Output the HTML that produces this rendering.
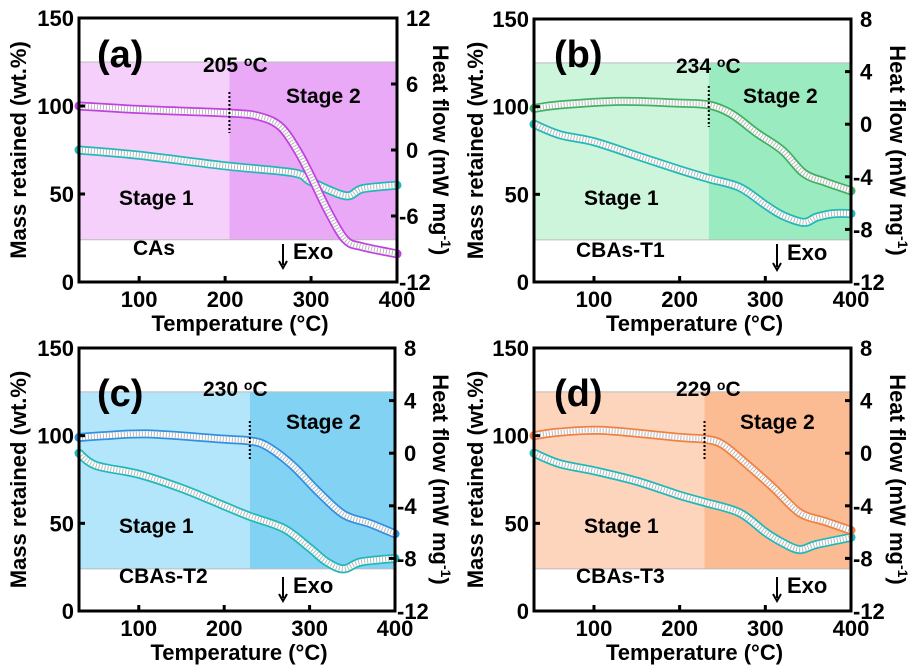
<!DOCTYPE html>
<html><head><meta charset="utf-8"><style>
html,body{margin:0;padding:0;background:#fff;}
svg{display:block;font-family:"Liberation Sans",Arial,sans-serif;font-weight:bold;}
</style></head><body>
<svg id="s" width="917" height="672" viewBox="0 0 917 672" xmlns="http://www.w3.org/2000/svg"></svg>
<script>
const P=[
{ox:0,oy:0,L:79,R:397,T:18,B:282,hmax:12,ht:[12,6,0,-6,-12],split:205,light:"#f5d0fa",dark:"#e9a9f7",mc:"#c040e0",lab:"(a)",name:"CAs",
 mass:[[30,100],[100,98],[205,96],[240,94],[265,88],[285,74],[300,60],[320,40],[340,24],[360,20],[400,16]],
 heat:[[30,75],[100,72],[200,66],[280,62],[300,57],[340,49],[360,53],[400,55]],
 tx:203,sx:286,s1:119,nx:133,ax:283,ty:72,dy1:92,dy2:133,s2y:103,s1y:205,ny:255,ay1:244,ay2:268,ey:259,lby:67},
{ox:457,oy:0,L:77,R:394,T:19,B:282,hmax:8,ht:[8,4,0,-4,-8,-12],split:234,light:"#cdf5dc",dark:"#9aebbf",mc:"#40b060",lab:"(b)",name:"CBAs-T1",
 mass:[[30,99],[60,101],[130,103],[200,102],[234,101],[260,96],[290,85],[320,75],[345,62],[370,57],[400,52]],
 heat:[[30,90],[60,84],[100,80],[150,72],[200,64],[234,59],[270,54],[300,44],[320,38],[345,34],[360,37],[380,39],[400,39]],
 tx:219,sx:286,s1:127,nx:119,ax:320,ty:73,dy1:86,dy2:127,s2y:103,s1y:205,ny:257,ay1:244,ay2:270,ey:260,lby:67},
{ox:0,oy:336,L:79,R:395,T:12,B:275,hmax:8,ht:[8,4,0,-4,-8,-12],split:230,light:"#b3e5fb",dark:"#82d3f3",mc:"#3090e0",lab:"(c)",name:"CBAs-T2",
 mass:[[30,99],[60,100],[110,101],[200,98],[230,97],[250,94],[280,83],[310,68],[340,55],[370,50],[400,44]],
 heat:[[30,90],[50,83],[100,78],[150,70],[200,60],[230,54],[270,47],[300,36],[320,28],[340,24],[360,28],[400,30]],
 tx:203,sx:286,s1:119,nx:119,ax:283,ty:60,dy1:85,dy2:125,s2y:93,s1y:197,ny:247,ay1:241,ay2:265,ey:257,lby:70},
{ox:457,oy:336,L:77,R:394,T:12,B:275,hmax:8,ht:[8,4,0,-4,-8,-12],split:229,light:"#fdd5bc",dark:"#fbbb93",mc:"#f08040",lab:"(d)",name:"CBAs-T3",
 mass:[[30,100],[60,102],[110,103],[200,99],[229,98],[250,95],[280,83],[310,70],[340,56],[370,51],[400,46]],
 heat:[[30,90],[60,84],[100,80],[150,74],[200,66],[229,62],[270,56],[300,45],[320,39],[340,35],[360,38],[400,42]],
 tx:219,sx:283,s1:127,nx:119,ax:320,ty:60,dy1:85,dy2:125,s2y:93,s1y:197,ny:247,ay1:241,ay2:265,ey:257,lby:70}
];
let h="";
function smooth(pts){let d="M"+pts[0][0]+","+pts[0][1];
 for(let i=0;i<pts.length-1;i++){const p0=pts[i-1]||pts[i],p1=pts[i],p2=pts[i+1],p3=pts[i+2]||p2;
 const c1=[p1[0]+(p2[0]-p0[0])/6,p1[1]+(p2[1]-p0[1])/6],c2=[p2[0]-(p3[0]-p1[0])/6,p2[1]-(p3[1]-p1[1])/6];
 d+=` C${c1[0]},${c1[1]} ${c2[0]},${c2[1]} ${p2[0]},${p2[1]}`;}return d;}
for(const p of P){
 const L=p.ox+p.L,R=p.ox+p.R,T=p.oy+p.T,B=p.oy+p.B;
 const X=v=>L+(v-30)/370*(R-L), Y=m=>B-m/150*(B-T);
 const sx=X(p.split), y1=Y(125), y2=Y(24);
 h+=`<rect x="${L}" y="${y1}" width="${sx-L}" height="${y2-y1}" fill="${p.light}"/>`;
 h+=`<rect x="${sx}" y="${y1}" width="${R-sx}" height="${y2-y1}" fill="${p.dark}"/>`;
 h+=`<line x1="${L}" x2="${R}" y1="${y1}" y2="${y1}" stroke="#bbb" stroke-width="1"/><line x1="${L}" x2="${R}" y1="${y2}" y2="${y2}" stroke="#bbb" stroke-width="1"/>`;
 for(const [arr,c] of [[p.heat,"#20b8b8"],[p.mass,p.mc]]){
  const d=smooth(arr.map(a=>[X(a[0]),Y(a[1])]));
  h+=`<path d="${d}" fill="none" stroke="${c}" stroke-width="9" stroke-linecap="round"/>`;
  h+=`<path d="${d}" fill="none" stroke="#fff" stroke-width="5.5"/>`;
  h+=`<path d="${d}" fill="none" stroke="#999" stroke-width="5" stroke-dasharray="1 2" opacity="0.7"/>`;
 }
 h+=`<line x1="${sx}" x2="${sx}" y1="${p.oy+p.dy1}" y2="${p.oy+p.dy2}" stroke="#000" stroke-width="2" stroke-dasharray="2 2"/>`;
 h+=`<rect x="${L}" y="${T}" width="${R-L}" height="${B-T}" fill="none" stroke="#000" stroke-width="3"/>`;
 for(const m of [0,50,100,150]){const y=Y(m);
  h+=`<line x1="${L}" x2="${L+6}" y1="${y}" y2="${y}" stroke="#000" stroke-width="3"/>`;
  h+=`<text x="${L-5}" y="${y+8}" font-size="22" text-anchor="end">${m}</text>`;}
 for(const t of [100,200,300,400]){const x=X(t);
  h+=`<line x1="${x}" x2="${x}" y1="${B}" y2="${B-6}" stroke="#000" stroke-width="3"/>`;
  h+=`<text x="${x}" y="${B+25}" font-size="22" text-anchor="middle">${t}</text>`;}
 for(const t of p.ht){const y=T+(p.hmax-t)/(p.hmax+12)*(B-T);
  h+=`<line x1="${R}" x2="${R-6}" y1="${y}" y2="${y}" stroke="#000" stroke-width="3"/>`;
  h+=`<text x="${t<0?R+2:R+9}" y="${y+8}" font-size="22">${t}</text>`;}
 h+=`<text x="${(L+R)/2+2}" y="${B+49}" font-size="22" text-anchor="middle">Temperature (°C)</text>`;
 h+=`<text transform="translate(${p.ox+26},${(T+B)/2}) rotate(-90)" font-size="22" text-anchor="middle">Mass retained (wt.%)</text>`;
 h+=`<text transform="translate(${p.ox+433},${(T+B)/2}) rotate(90)" font-size="22" text-anchor="middle">Heat flow (mW mg<tspan dy="-8" font-size="14">-1</tspan><tspan dy="8">)</tspan></text>`;
 h+=`<text x="${p.ox+97}" y="${p.oy+p.lby}" font-size="38">${p.lab}</text>`;
 h+=`<text x="${p.ox+p.tx}" y="${p.oy+p.ty}" font-size="21">${p.split} <tspan dy="-6" font-size="14">o</tspan><tspan dy="6">C</tspan></text>`;
 h+=`<text x="${p.ox+p.sx}" y="${p.oy+p.s2y}" font-size="21">Stage 2</text>`;
 h+=`<text x="${p.ox+p.s1}" y="${p.oy+p.s1y}" font-size="21">Stage 1</text>`;
 h+=`<text x="${p.ox+p.nx}" y="${p.oy+p.ny}" font-size="21">${p.name}</text>`;
 h+=`<line x1="${p.ox+p.ax}" x2="${p.ox+p.ax}" y1="${p.oy+p.ay1}" y2="${p.oy+p.ay2-3}" stroke="#000" stroke-width="2"/>`;
 h+=`<path d="M${p.ox+p.ax-4},${p.oy+p.ay2-7} L${p.ox+p.ax},${p.oy+p.ay2} L${p.ox+p.ax+4},${p.oy+p.ay2-7}" fill="none" stroke="#000" stroke-width="2"/>`;
 h+=`<text x="${p.ox+p.ax+10}" y="${p.oy+p.ey}" font-size="22">Exo</text>`;
}
document.getElementById("s").innerHTML=h;
</script>
</body></html>
